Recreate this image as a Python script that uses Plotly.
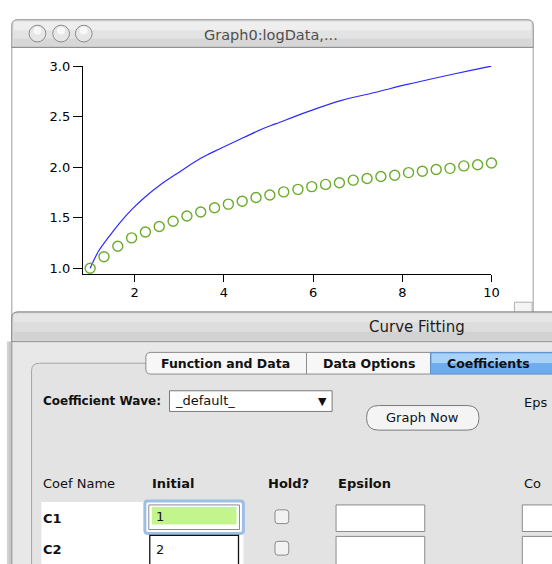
import plotly.graph_objects as go

W, H = 552, 564

# ---- data ----
fit_x = [1.00, 1.19, 1.41, 1.67, 1.93, 2.22, 2.59, 2.96, 3.47, 3.91, 4.43, 4.87,
         5.17, 5.90, 6.64, 7.38, 8.11, 8.85, 9.59, 10.00]
fit_y = [1.00, 1.17, 1.305, 1.452, 1.580, 1.700, 1.830, 1.940, 2.085, 2.182, 2.290, 2.380,
         2.430, 2.552, 2.660, 2.738, 2.818, 2.892, 2.962, 3.000]

data_x = [1.00, 1.31, 1.62, 1.93, 2.24, 2.55, 2.86, 3.17, 3.48, 3.79, 4.10, 4.41, 4.72,
          5.03, 5.34, 5.66, 5.97, 6.28, 6.59, 6.90, 7.21, 7.52, 7.83, 8.14, 8.45, 8.76,
          9.07, 9.38, 9.69, 10.00]
data_y = [1.000, 1.114, 1.218, 1.300, 1.358, 1.413, 1.465, 1.517, 1.556, 1.598, 1.634,
          1.663, 1.699, 1.725, 1.755, 1.780, 1.807, 1.829, 1.846, 1.871, 1.888, 1.907,
          1.920, 1.946, 1.959, 1.976, 1.988, 2.012, 2.024, 2.041]

x_ticks = [2, 4, 6, 8, 10]
y_ticks = [1.0, 1.5, 2.0, 2.5, 3.0]

window_title = "Graph0:logData,..."
dialog_title = "Curve Fitting"
tab_labels = ["Function and Data", "Data Options", "Coefficients"]
coef_names = ["C1", "C2"]
coef_initial = ["1", "2"]

FONT = "DejaVu Sans"


def px(x):
    return x / W


def py(y):
    return 1 - y / H


shapes = []


def rect(x0, y0, x1, y1, fill, line="rgba(0,0,0,0)", lw=1):
    shapes.append(dict(type="rect", xref="paper", yref="paper", layer="below",
                       x0=px(x0), x1=px(x1), y0=py(y1), y1=py(y0),
                       fillcolor=fill, line=dict(color=line, width=lw)))


def rrect(x0, y0, x1, y1, r, fill, line="rgba(0,0,0,0)", lw=1,
          tl=True, tr=True, br=True, bl=True):
    rtl, rtr, rbr, rbl = (r if tl else 0), (r if tr else 0), (r if br else 0), (r if bl else 0)

    def P(x, y):
        return f"{px(x):.5f},{py(y):.5f}"
    d = (f"M {P(x0 + rtl, y0)} L {P(x1 - rtr, y0)} Q {P(x1, y0)} {P(x1, y0 + rtr)} "
         f"L {P(x1, y1 - rbr)} Q {P(x1, y1)} {P(x1 - rbr, y1)} "
         f"L {P(x0 + rbl, y1)} Q {P(x0, y1)} {P(x0, y1 - rbl)} "
         f"L {P(x0, y0 + rtl)} Q {P(x0, y0)} {P(x0 + rtl, y0)} Z")
    shapes.append(dict(type="path", xref="paper", yref="paper", layer="below", path=d,
                       fillcolor=fill, line=dict(color=line, width=lw)))


def circle(cx, cy, r, fill, line, lw=1):
    shapes.append(dict(type="circle", xref="paper", yref="paper", layer="below",
                       x0=px(cx - r), x1=px(cx + r), y0=py(cy + r), y1=py(cy - r),
                       fillcolor=fill, line=dict(color=line, width=lw)))


def hline(x0, x1, y, color, lw=1):
    shapes.append(dict(type="line", xref="paper", yref="paper", layer="below",
                       x0=px(x0), x1=px(x1), y0=py(y), y1=py(y),
                       line=dict(color=color, width=lw)))


def vline(x, y0, y1, color, lw=1):
    shapes.append(dict(type="line", xref="paper", yref="paper", layer="below",
                       x0=px(x), x1=px(x), y0=py(y0), y1=py(y1),
                       line=dict(color=color, width=lw)))


annotations = []


def text(x, y, s, size=13, color="#111111", anchor="left", bold=False, family=FONT):
    if bold:
        s = f"<b>{s}</b>"
    annotations.append(dict(xref="paper", yref="paper", x=px(x), y=py(y), text=s,
                            showarrow=False, xanchor=anchor, yanchor="middle",
                            font=dict(family=family, size=size, color=color)))


# ---- graph window ----
rrect(12, 13, 541, 620, 6, "#ffffff", "#9c9c9c")
rrect(12, 13, 541, 41, 6, "#e0e0e0", "#9c9c9c", br=False, bl=False)
rect(14, 15, 539, 24, "#eeeeee")
rect(14, 24, 539, 32, "#e3e3e3")
rect(14, 32, 539, 40, "#d7d7d7")
hline(12, 541, 41, "#8c8c8c")
for cx in (38, 62, 85):
    circle(cx, 27, 8.5, "#e6e6e6", "#8a8a8a")
    circle(cx, 24, 4, "#f8f8f8", "rgba(0,0,0,0)")
text(275, 28, window_title, size=14.5, color="#4f4f4f", anchor="center")
# resize grip
rect(522, 300, 540, 311, "#f4f4f4", "#b0b0b0")

# ---- curve fitting dialog ----
rect(7, 340, 13, 620, "#d2d2d2")
vline(10, 340, 620, "#bdbdbd")
rrect(12, 310, 600, 620, 6, "#e8e8e8", "#8c8c8c", tr=False, br=False, bl=False)
rrect(12, 310, 600, 340, 6, "#dcdcdc", "#8c8c8c", tr=False, br=False, bl=False)
rect(14, 312, 600, 320, "#e6e6e6")
rect(14, 320, 600, 330, "#dddddd")
rect(14, 330, 600, 339, "#d2d2d2")
hline(12, 600, 340, "#9a9a9a")
text(423, 325, dialog_title, size=15, color="#1e1e1e", anchor="center")

# tab panel
rrect(32, 362, 620, 620, 8, "#e3e3e3", "#a6a6a6")
# tabs
rrect(148, 351, 311, 373, 5, "#f7f7f7", "#8c8c8c", tr=False, br=False)
rect(311, 351, 437, 373, "#f7f7f7", "#8c8c8c")
rect(437, 351, 600, 373, "#74b1ee", "#5b8bc9")
rect(438, 352, 600, 362, "#a8d2f8")
rect(438, 362, 600, 372, "#6eaded")
text(229, 362, tab_labels[0], size=12.5, bold=True, anchor="center")
text(374, 362, tab_labels[1], size=12.5, bold=True, anchor="center")
text(452, 362, tab_labels[2], size=12.5, bold=True, anchor="left")

# coefficient wave popup
text(42, 400, "Coefficient Wave:", size=12, bold=True)
rect(172, 390, 337, 411, "#ffffff", "#7a7a7a")
text(176, 400, "_default_", size=13)
text(327, 401, "▼", size=11, anchor="center")

# graph now button
rrect(372, 405, 486, 430, 12, "#f4f4f4", "#7a7a7a")
text(429, 417, "Graph Now", size=13, anchor="center")
text(530, 402, "Eps", size=13)

# column headers
text(42, 484, "Coef Name", size=13)
text(152, 484, "Initial", size=13, bold=True)
text(270, 484, "Hold?", size=13, bold=True)
text(341, 484, "Epsilon", size=13, bold=True)
text(530, 484, "Co", size=13)

# list area
rect(42, 501, 247, 620, "#ffffff")
hline(42, 247, 502, "#c8c8c8")
text(42, 520, coef_names[0], size=13, bold=True)
text(42, 551, coef_names[1], size=13, bold=True)

# initial value fields
rrect(147, 502, 247, 535, 3, "rgba(0,0,0,0)", "#9dbfe3", lw=3)
rect(151, 506, 243, 531, "#ffffff", "#8a8a8a")
rect(154, 508, 240, 526, "#c3f58d")
text(156, 518, coef_initial[0], size=13)
rect(152, 537, 242, 620, "#ffffff", "#111111", lw=1.3)
text(156, 551, coef_initial[1], size=13)

# hold checkboxes
for cy in (518, 550):
    rrect(279, cy - 7, 293, cy + 7, 3, "#f2f2f2", "#8a8a8a")

# epsilon and constraint fields
for (x0, x1) in ((341, 431), (530, 620)):
    rect(x0, 506, x1, 533, "#ffffff", "#8a8a8a")
    rect(x0, 538, x1, 620, "#ffffff", "#8a8a8a")

# ---- figure ----
fig = go.Figure()
fig.add_trace(go.Scatter(x=fit_x, y=fit_y, mode="lines", line_shape="spline",
                         line=dict(color="#2b2bff", width=1.2), showlegend=False,
                         cliponaxis=False))
fig.add_trace(go.Scatter(x=data_x, y=data_y, mode="markers", showlegend=False,
                         marker=dict(symbol="circle-open", size=10, color="#6aab2a",
                                     line=dict(width=1.4, color="#6aab2a")),
                         cliponaxis=False))

axis_common = dict(showgrid=False, zeroline=False, showline=True, linecolor="#000000",
                   linewidth=1, ticks="outside", tickcolor="#000000", tickwidth=1,
                   tickfont=dict(family=FONT, size=13, color="#000000"))

fig.update_layout(
    width=W, height=H,
    margin=dict(l=0, r=0, t=0, b=0),
    paper_bgcolor="#ffffff",
    plot_bgcolor="rgba(0,0,0,0)",
    xaxis=dict(domain=[px(84), px(498.7)], range=[0.835, 10], tickvals=x_ticks,
               ticklen=7, **axis_common),
    yaxis=dict(domain=[py(271), py(60)], range=[0.946, 3.0], tickvals=y_ticks,
               tickformat=".1f", ticklen=9, **axis_common),
    shapes=shapes,
    annotations=annotations,
)

fig.write_html(
    "out.html",
    config={"displayModeBar": False},
    post_script="document.body.style.margin='0';document.body.style.padding='0';"
                "document.documentElement.style.overflow='hidden';",
)
